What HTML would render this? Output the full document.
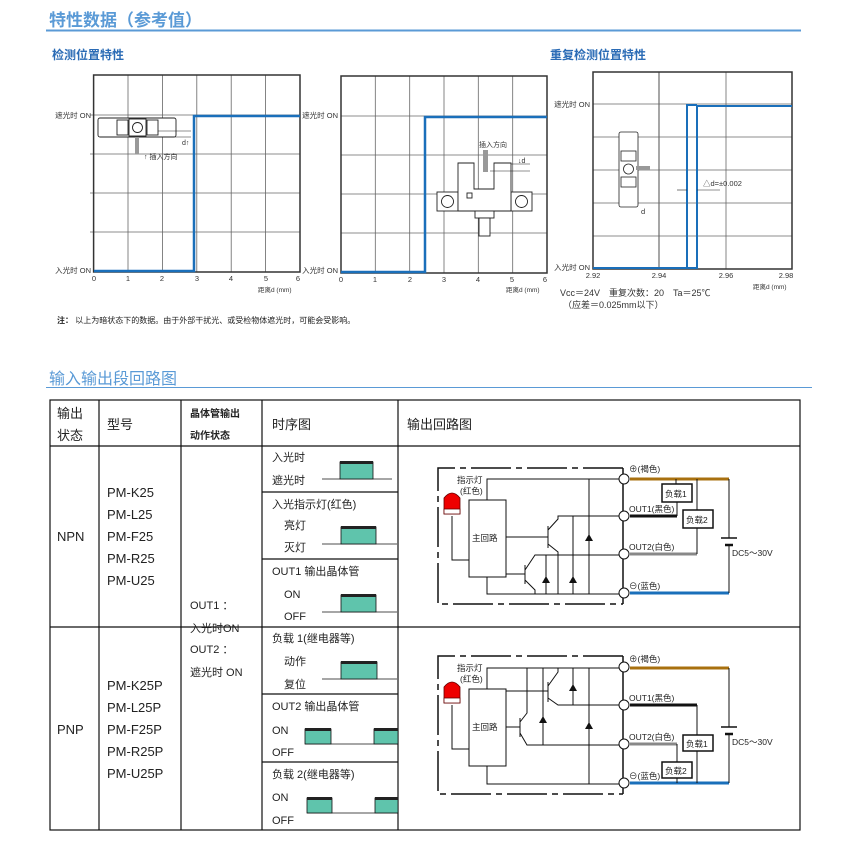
<!DOCTYPE html>
<html><head><meta charset="utf-8"><style>
html,body{margin:0;padding:0;background:#fff;}
svg{display:block;font-family:"Liberation Sans","Noto Sans CJK SC",sans-serif;}
</style></head><body>
<svg width="851" height="844" viewBox="0 0 851 844" xmlns="http://www.w3.org/2000/svg">
<!-- headers -->
<text x="49" y="26" font-size="17" font-weight="bold" fill="#5a9ad6">特性数据（参考值）</text>
<line x1="46" y1="30.5" x2="801" y2="30.5" stroke="#5a9ad6" stroke-width="2"/>
<text x="52" y="59" font-size="12" font-weight="bold" fill="#2a6bb5">检测位置特性</text>
<text x="550" y="59" font-size="12" font-weight="bold" fill="#2a6bb5">重复检测位置特性</text>

<!-- Graph 1 -->
<g stroke="#666" stroke-width="0.8" fill="none">
<line x1="128" y1="75" x2="128" y2="272"/><line x1="162.4" y1="75" x2="162.4" y2="272"/><line x1="196.8" y1="75" x2="196.8" y2="272"/><line x1="231.2" y1="75" x2="231.2" y2="272"/><line x1="265.6" y1="75" x2="265.6" y2="272"/>
<line x1="90" y1="115" x2="300" y2="115"/><line x1="90" y1="154" x2="300" y2="154"/><line x1="90" y1="193" x2="300" y2="193"/><line x1="90" y1="232" x2="300" y2="232"/>
<rect x="93.6" y="75" width="206.4" height="197" stroke="#333" stroke-width="1.5"/>
</g>
<polyline points="94,271 194,271 194,116 300,116" fill="none" stroke="#1a6fba" stroke-width="2.5"/>
<g font-size="7.5" fill="#333">
<text x="91" y="118" text-anchor="end">遮光时 ON</text>
<text x="91" y="273" text-anchor="end">入光时 ON</text>
<text x="94" y="281" text-anchor="middle">0</text><text x="128" y="281" text-anchor="middle">1</text><text x="162" y="281" text-anchor="middle">2</text><text x="197" y="281" text-anchor="middle">3</text><text x="231" y="281" text-anchor="middle">4</text><text x="266" y="281" text-anchor="middle">5</text><text x="298" y="281" text-anchor="middle">6</text>
<text x="258" y="292" font-size="6.5">距离d (mm)</text>
</g>
<g stroke="#222" stroke-width="0.9" fill="#fff">
<rect x="98" y="118" width="78" height="19" rx="2"/>
<rect x="117" y="120" width="11" height="15"/><rect x="129" y="119" width="17" height="17"/><rect x="147" y="120" width="11" height="15"/>
<circle cx="137.5" cy="127.5" r="5"/>
</g>
<rect x="135" y="137" width="4" height="17" fill="#999"/>
<line x1="158" y1="131" x2="191" y2="131" stroke="#222" stroke-width="0.6"/>
<line x1="158" y1="137" x2="191" y2="137" stroke="#222" stroke-width="0.6"/>
<text x="182" y="145" font-size="7" fill="#333">d↑</text>
<text x="144" y="159" font-size="7" fill="#333">↑ 插入方向</text>

<!-- Graph 2 -->
<g stroke="#666" stroke-width="0.8" fill="none">
<line x1="375.3" y1="76" x2="375.3" y2="273"/><line x1="409.7" y1="76" x2="409.7" y2="273"/><line x1="444" y1="76" x2="444" y2="273"/><line x1="478.3" y1="76" x2="478.3" y2="273"/><line x1="512.7" y1="76" x2="512.7" y2="273"/>
<line x1="341" y1="116" x2="547" y2="116"/><line x1="341" y1="155" x2="547" y2="155"/><line x1="341" y1="194" x2="547" y2="194"/><line x1="341" y1="233" x2="547" y2="233"/>
<rect x="341" y="76" width="206" height="197" stroke="#333" stroke-width="1.5"/>
</g>
<polyline points="341,272 425,272 425,117 547,117" fill="none" stroke="#1a6fba" stroke-width="2.5"/>
<g font-size="7.5" fill="#333">
<text x="338" y="118" text-anchor="end">遮光时 ON</text>
<text x="338" y="273" text-anchor="end">入光时 ON</text>
<text x="341" y="282" text-anchor="middle">0</text><text x="375" y="282" text-anchor="middle">1</text><text x="410" y="282" text-anchor="middle">2</text><text x="444" y="282" text-anchor="middle">3</text><text x="478" y="282" text-anchor="middle">4</text><text x="512" y="282" text-anchor="middle">5</text><text x="545" y="282" text-anchor="middle">6</text>
<text x="506" y="292" font-size="6.5">距离d (mm)</text>
</g>
<g stroke="#222" stroke-width="0.9" fill="#fff">
<rect x="437" y="192" width="21" height="19"/><rect x="511" y="192" width="21" height="19"/>
<path d="M458,163 H474 V189 H494 V163 H511 V211 H458 Z"/>
<circle cx="447.5" cy="201.5" r="6"/><circle cx="521.5" cy="201.5" r="6"/>
<rect x="475" y="211" width="19" height="7"/><rect x="479" y="218" width="11" height="18"/>
<rect x="467" y="193" width="5" height="5"/>
</g>
<rect x="483" y="150" width="5" height="22" fill="#999"/>
<line x1="490" y1="171" x2="530" y2="171" stroke="#222" stroke-width="0.6"/>
<line x1="511" y1="164" x2="530" y2="164" stroke="#222" stroke-width="0.6"/>
<text x="479" y="147" font-size="7" fill="#333">插入方向</text>
<text x="518" y="163" font-size="7" fill="#333">↓d</text>

<!-- Graph 3 -->
<g stroke="#666" stroke-width="0.8" fill="none">
<line x1="659" y1="72" x2="659" y2="269" stroke="#222"/><line x1="726" y1="72" x2="726" y2="269"/>
<line x1="593" y1="104" x2="792" y2="104"/><line x1="593" y1="137" x2="792" y2="137"/><line x1="593" y1="170" x2="792" y2="170"/><line x1="593" y1="203" x2="792" y2="203"/><line x1="593" y1="236" x2="792" y2="236"/>
<rect x="593" y="72" width="199" height="197" stroke="#333" stroke-width="1.5"/>
</g>
<polyline points="593,268 697,268 697,106 792,106" fill="none" stroke="#1a6fba" stroke-width="2"/>
<polyline points="687,268 687,105 697,105" fill="none" stroke="#1a6fba" stroke-width="2"/>
<g stroke="#222" stroke-width="0.8" fill="#fff">
<rect x="619" y="132" width="19" height="75" rx="2"/>
<rect x="621" y="151" width="15" height="10"/><rect x="621" y="177" width="15" height="10"/>
<circle cx="628.5" cy="169" r="5"/>
</g>
<rect x="636" y="166" width="14" height="4" fill="#999"/>
<line x1="677" y1="190" x2="687" y2="190" stroke="#222" stroke-width="0.6"/>
<line x1="697" y1="190" x2="720" y2="190" stroke="#222" stroke-width="0.6"/>
<g font-size="7.5" fill="#333">
<text x="703" y="186">△d=±0.002</text>
<text x="641" y="214">d</text>
<text x="590" y="107" text-anchor="end">遮光时 ON</text>
<text x="590" y="270" text-anchor="end">入光时 ON</text>
<text x="593" y="278" text-anchor="middle">2.92</text><text x="659" y="278" text-anchor="middle">2.94</text><text x="726" y="278" text-anchor="middle">2.96</text><text x="786" y="278" text-anchor="middle">2.98</text>
<text x="753" y="289" font-size="6.5">距离d (mm)</text>
<text x="560" y="296" font-size="9">Vcc＝24V　重复次数：20　Ta＝25℃</text>
<text x="563" y="308" font-size="9">（应差＝0.025mm以下）</text>
</g>
<text x="57" y="323" font-size="8" fill="#222"><tspan font-weight="bold">注：</tspan> 以上为暗状态下的数据。由于外部干扰光、或受检物体遮光时，可能会受影响。</text>

<!-- section 2 -->
<text x="49" y="384" font-size="16" fill="#5a9ad6">输入输出段回路图</text>
<line x1="46" y1="387.5" x2="812" y2="387.5" stroke="#5a9ad6" stroke-width="1"/>

<g stroke="#111" stroke-width="1.2" fill="none">
<rect x="50" y="400" width="750" height="430"/>
<line x1="50" y1="446" x2="800" y2="446"/>
<line x1="50" y1="627" x2="262" y2="627"/><line x1="398" y1="627" x2="800" y2="627"/>
<line x1="99" y1="400" x2="99" y2="830"/><line x1="181" y1="400" x2="181" y2="830"/><line x1="262" y1="400" x2="262" y2="830"/><line x1="398" y1="400" x2="398" y2="830"/>
<line x1="262" y1="492" x2="398" y2="492"/><line x1="262" y1="559" x2="398" y2="559"/><line x1="262" y1="627" x2="398" y2="627"/>
<line x1="262" y1="694" x2="398" y2="694"/><line x1="262" y1="762" x2="398" y2="762"/>
</g>
<g font-size="13" fill="#222">
<text x="57" y="418">输出</text><text x="57" y="440">状态</text>
<text x="107" y="429">型号</text>
<text x="272" y="429">时序图</text>
<text x="407" y="429">输出回路图</text>
<text x="57" y="541">NPN</text>
<text x="107" y="497">PM-K25</text><text x="107" y="519">PM-L25</text><text x="107" y="541">PM-F25</text><text x="107" y="563">PM-R25</text><text x="107" y="585">PM-U25</text>
<text x="57" y="734">PNP</text>
<text x="107" y="690">PM-K25P</text><text x="107" y="712">PM-L25P</text><text x="107" y="734">PM-F25P</text><text x="107" y="756">PM-R25P</text><text x="107" y="778">PM-U25P</text>
</g>
<g font-size="10" font-weight="bold" fill="#222"><text x="190" y="417">晶体管输出</text><text x="190" y="439">动作状态</text></g>
<g font-size="11" fill="#222">
<text x="190" y="609">OUT1 ：</text><text x="190" y="632">入光时ON</text><text x="190" y="653">OUT2 ：</text><text x="190" y="676">遮光时 ON</text>
<text x="272" y="461">入光时</text><text x="272" y="484">遮光时</text>
<text x="272" y="508">入光指示灯(红色)</text><text x="284" y="529">亮灯</text><text x="284" y="551">灭灯</text>
<text x="272" y="575">OUT1 输出晶体管</text><text x="284" y="598">ON</text><text x="284" y="620">OFF</text>
<text x="272" y="642">负载 1(继电器等)</text><text x="284" y="665">动作</text><text x="284" y="688">复位</text>
<text x="272" y="710">OUT2 输出晶体管</text><text x="272" y="734">ON</text><text x="272" y="756">OFF</text>
<text x="272" y="778">负载 2(继电器等)</text><text x="272" y="801">ON</text><text x="272" y="824">OFF</text>
</g>
<!-- waveforms -->
<g fill="#5fc4ac" stroke="#111" stroke-width="0.8">
<line x1="322" y1="479" x2="392" y2="479"/><rect x="340" y="462" width="33" height="17"/>
<line x1="322" y1="544" x2="397" y2="544"/><rect x="341" y="527" width="35" height="17"/>
<line x1="322" y1="612" x2="397" y2="612"/><rect x="341" y="595" width="35" height="17"/>
<line x1="322" y1="679" x2="397" y2="679"/><rect x="341" y="662" width="36" height="17"/>
<line x1="305" y1="744" x2="398" y2="744"/><rect x="305" y="729" width="26" height="15"/><rect x="374" y="729" width="24" height="15"/>
<line x1="307" y1="813" x2="398" y2="813"/><rect x="307" y="798" width="25" height="15"/><rect x="375" y="798" width="23" height="15"/>
</g>
<g fill="#222">
<rect x="340" y="461" width="33" height="3"/><rect x="341" y="526" width="35" height="3"/><rect x="341" y="594" width="35" height="3"/>
<rect x="341" y="661" width="36" height="3"/><rect x="305" y="728" width="26" height="3"/><rect x="374" y="728" width="24" height="3"/>
<rect x="307" y="797" width="25" height="3"/><rect x="375" y="797" width="23" height="3"/>
</g>

<!-- NPN circuit -->
<g stroke="#111" stroke-width="1" fill="none">
<path d="M623,468 H438 V604 H623" stroke-width="1.5" stroke-dasharray="40,5,6,5"/>
<line x1="623" y1="468" x2="623" y2="604" stroke-width="1.5"/>
<rect x="469" y="500" width="37" height="77" fill="#fff"/>
<path d="M487,500 V479 H619"/>
<path d="M487,577 V594 H619"/>
<path d="M452,516 V560 H469"/>
<path d="M506,537 H548"/><path d="M548,526 V548"/><path d="M548,530 L558,519 V516 H619"/><path d="M548,544 L558,552 V594"/>
<path d="M506,574 H525"/><path d="M525,565 V584"/><path d="M525,570 L535,555 H619"/><path d="M525,580 L535,590 V594"/>
<line x1="546" y1="555" x2="546" y2="594"/><line x1="573" y1="516" x2="573" y2="594"/><line x1="589" y1="479" x2="589" y2="594"/>
</g>
<g fill="#111">
<path d="M542,583 L550,583 L546,576 Z"/><path d="M569,583 L577,583 L573,576 Z"/><path d="M585,541 L593,541 L589,534 Z"/>
</g>
<g fill="#fff" stroke="#111" stroke-width="1"><circle cx="624" cy="479" r="5"/><circle cx="624" cy="516" r="5"/><circle cx="624" cy="554" r="5"/><circle cx="624" cy="593" r="5"/></g>
<path d="M444,514 V498 Q452,488 460,498 V514 Z" fill="#e00" stroke="#600" stroke-width="0.8"/>
<rect x="444" y="509" width="16" height="5" fill="#fff" stroke="#600" stroke-width="0.8"/>
<line x1="630" y1="479" x2="729" y2="479" stroke="#a8700f" stroke-width="3"/>
<line x1="630" y1="516" x2="677" y2="516" stroke="#111" stroke-width="3"/>
<line x1="630" y1="554" x2="697" y2="554" stroke="#888" stroke-width="3"/>
<line x1="630" y1="593" x2="729" y2="593" stroke="#1a6fba" stroke-width="3"/>
<g stroke="#111" stroke-width="1" fill="none">
<path d="M676,479 V484 M677,502 V516"/><path d="M697,479 V510 M697,528 V554"/>
<path d="M729,479 V538 M729,545 V593"/><line x1="721" y1="538" x2="737" y2="538" stroke-width="1.5"/><line x1="725" y1="545" x2="733" y2="545" stroke-width="2.5"/>
<rect x="662" y="484" width="30" height="18" fill="#fff" stroke-width="1.5"/><rect x="683" y="510" width="30" height="18" fill="#fff" stroke-width="1.5"/>
</g>
<g font-size="8.5" fill="#222">
<text x="629" y="472">⊕(褐色)</text><text x="629" y="512">OUT1(黑色)</text><text x="629" y="550">OUT2(白色)</text><text x="629" y="589">⊖(蓝色)</text>
<text x="665" y="497">负载1</text><text x="686" y="523">负载2</text>
<text x="732" y="556">DC5～30V</text><text x="472" y="541">主回路</text>
<text x="457" y="483">指示灯</text><text x="460" y="494">(红色)</text>
</g>

<!-- PNP circuit -->
<g stroke="#111" stroke-width="1" fill="none">
<path d="M623,656 H438 V794 H623" stroke-width="1.5" stroke-dasharray="40,5,6,5"/>
<line x1="623" y1="656" x2="623" y2="794" stroke-width="1.5"/>
<rect x="469" y="689" width="37" height="77" fill="#fff"/>
<path d="M487,689 V668 H619"/>
<path d="M487,766 V784 H619"/>
<path d="M452,705 V749 H469"/>
<path d="M506,691 H548"/><path d="M548,682 V702"/><path d="M548,686 L558,672 V668"/><path d="M548,698 L558,705 H619"/>
<path d="M506,727 H520"/><path d="M520,718 V737"/><path d="M520,722 L527,713 V668"/><path d="M520,733 L527,745 H619"/>
<line x1="543" y1="668" x2="543" y2="745"/><line x1="573" y1="668" x2="573" y2="705"/><line x1="589" y1="668" x2="589" y2="784"/>
</g>
<g fill="#111">
<path d="M539,723 L547,723 L543,716 Z"/><path d="M569,691 L577,691 L573,684 Z"/><path d="M585,729 L593,729 L589,722 Z"/>
</g>
<g fill="#fff" stroke="#111" stroke-width="1"><circle cx="624" cy="667" r="5"/><circle cx="624" cy="705" r="5"/><circle cx="624" cy="744" r="5"/><circle cx="624" cy="783" r="5"/></g>
<path d="M444,703 V687 Q452,677 460,687 V703 Z" fill="#e00" stroke="#600" stroke-width="0.8"/>
<rect x="444" y="698" width="16" height="5" fill="#fff" stroke="#600" stroke-width="0.8"/>
<line x1="630" y1="668" x2="729" y2="668" stroke="#a8700f" stroke-width="3"/>
<line x1="630" y1="705" x2="697" y2="705" stroke="#111" stroke-width="3"/>
<line x1="630" y1="744" x2="677" y2="744" stroke="#888" stroke-width="3"/>
<line x1="630" y1="783" x2="729" y2="783" stroke="#1a6fba" stroke-width="3"/>
<g stroke="#111" stroke-width="1" fill="none">
<path d="M697,705 V735 M697,751 V783"/><path d="M677,744 V762 M677,778 V783"/>
<path d="M729,668 V727 M729,734 V783"/><line x1="721" y1="727" x2="737" y2="727" stroke-width="1.5"/><line x1="725" y1="734" x2="733" y2="734" stroke-width="2.5"/>
<rect x="683" y="735" width="30" height="16" fill="#fff" stroke-width="1.5"/><rect x="662" y="762" width="30" height="16" fill="#fff" stroke-width="1.5"/>
</g>
<g font-size="8.5" fill="#222">
<text x="629" y="662">⊕(褐色)</text><text x="629" y="701">OUT1(黑色)</text><text x="629" y="740">OUT2(白色)</text><text x="629" y="779">⊖(蓝色)</text>
<text x="686" y="747">负载1</text><text x="665" y="774">负载2</text>
<text x="732" y="745">DC5～30V</text><text x="472" y="730">主回路</text>
<text x="457" y="671">指示灯</text><text x="460" y="682">(红色)</text>
</g>
</svg>
</body></html>
